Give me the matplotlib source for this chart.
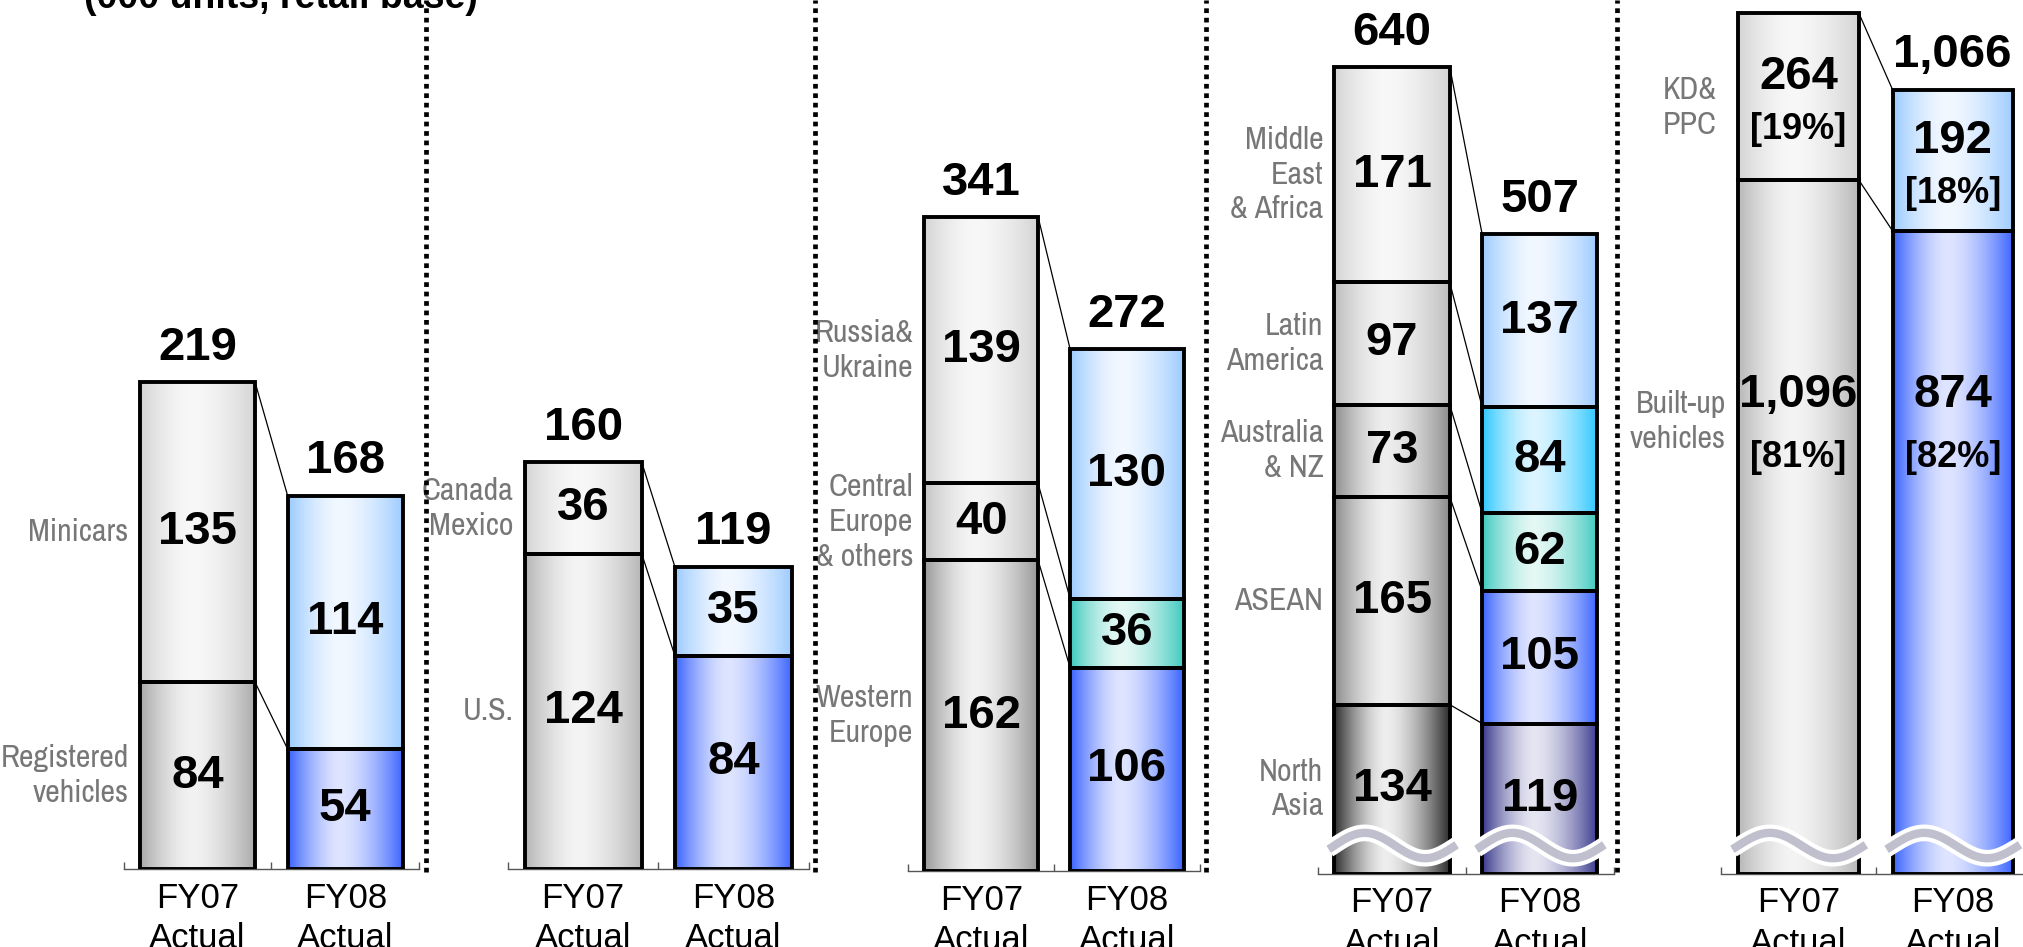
import numpy as np
import matplotlib.pyplot as plt
from matplotlib.colors import to_rgb
from matplotlib.lines import Line2D
from matplotlib.patches import ConnectionPatch

# ---- data (000 units, retail base) ----
bar_names = ['FY07\nActual', 'FY08\nActual']

japan_labels = ['Registered\nvehicles', 'Minicars']
japan_fy07 = [84, 135]
japan_fy08 = [54, 114]

na_labels = ['U.S.', 'Canada\nMexico']
na_fy07 = [124, 36]
na_fy08 = [84, 35]

europe_labels = ['Western\nEurope', 'Central\nEurope\n& others', 'Russia&\nUkraine']
europe_fy07 = [162, 40, 139]
europe_fy08 = [106, 36, 130]

gm_labels = ['North\nAsia', 'ASEAN', 'Australia\n& NZ', 'Latin\nAmerica', 'Middle\nEast\n& Africa']
gm_fy07 = [134, 165, 73, 97, 171]
gm_fy08 = [119, 105, 62, 84, 137]

prod_labels = ['Built-up\nvehicles', 'KD&\nPPC']
prod_fy07 = [1096, 264]
prod_fy08 = [874, 192]
prod_share07 = ['81%', '19%']
prod_share08 = ['82%', '18%']

# ---- styles ----
plt.rcParams['font.family'] = ['Liberation Sans', 'DejaVu Sans']
NARROW = ['Archivo Narrow', 'Pragati Narrow', 'Liberation Sans']

BLUE = ('#3a64ff', '#dfe5ff')
LIGHTBLUE = ('#9ccbff', '#f2f8ff')
TEAL = ('#3fcabf', '#e4f8f4')
CYAN = ('#2ec8ff', '#dcf5ff')
NAVY = ('#3b3b8e', '#e6e6f2')
G_TOP = ('#d4d4d4', '#f8f8f8')

japan_c07 = [('#a9a9a9', '#f2f2f2'), G_TOP]
japan_c08 = [BLUE, LIGHTBLUE]
na_c07 = [('#b5b5b5', '#f4f4f4'), G_TOP]
na_c08 = [BLUE, LIGHTBLUE]
europe_c07 = [('#999999', '#f2f2f2'), ('#c4c4c4', '#f5f5f5'), G_TOP]
europe_c08 = [BLUE, TEAL, LIGHTBLUE]
gm_c07 = [('#2e2e2e', '#eeeeee'), ('#8c8c8c', '#f0f0f0'), ('#8e8e8e', '#eeeeee'),
          ('#bdbdbd', '#f3f3f3'), G_TOP]
gm_c08 = [NAVY, BLUE, TEAL, CYAN, LIGHTBLUE]
prod_c07 = [('#b8b8b8', '#f4f4f4'), G_TOP]
prod_c08 = [BLUE, LIGHTBLUE]

W, H = 2023, 947
BAR_W = 0.78
NUM_SIZE = 34
PCT_SIZE = 26
LAB_SIZE = 23
GRAY = '#777777'

fig = plt.figure(figsize=(W / 100, H / 100), dpi=100)


def shade(edge, mid, n=96, peak=0.45):
    u = np.linspace(0, 1, n)
    d = np.where(u < peak, (peak - u) / peak, (u - peak) / (1 - peak))
    t = d ** 1.6
    e, m = np.array(to_rgb(edge)), np.array(to_rgb(mid))
    return (m + (e - m) * t[:, None])[None, :, :]


def make_ax(left, right, base, ymax, axis=True):
    ax = fig.add_axes([left / W, (H - base) / H, (right - left) / W, base / H])
    ax.patch.set_visible(False)
    for s in ['top', 'right', 'left']:
        ax.spines[s].set_visible(False)
    ax.set_yticks([])
    if axis:
        ax.spines['bottom'].set_color('#555555')
        ax.spines['bottom'].set_linewidth(1.0)
        ax.set_xticks([0, 1], bar_names)
        ax.set_xticks([-0.5, 0.5, 1.5], minor=True)
        ax.tick_params(axis='x', which='major', length=0, pad=9, labelsize=25)
        ax.tick_params(axis='x', which='minor', direction='in', length=5,
                       width=1.0, color='#555555')
        for t in ax.get_xticklabels():
            t.set_linespacing(1.3)
    else:
        ax.spines['bottom'].set_visible(False)
        ax.set_xticks([])
    ax.set_xlim(-0.5, 1.5)
    ax.set_ylim(0, ymax)
    return ax


def stack(ax, x, values, colors, inside=True):
    bottoms = np.concatenate([[0], np.cumsum(values)[:-1]])
    bars = ax.bar([x] * len(values), values, BAR_W, bottom=bottoms,
                  facecolor='none', edgecolor='black', linewidth=2.8, zorder=3)
    for rect, (e, m) in zip(bars, colors):
        x0, y0 = rect.get_x(), rect.get_y()
        ax.imshow(shade(e, m), extent=(x0, x0 + rect.get_width(), y0, y0 + rect.get_height()),
                  aspect='auto', interpolation='bilinear', zorder=2)
    if inside:
        for b, v in zip(bottoms, values):
            ax.text(x, b + v / 2, f'{v:,}', ha='center', va='center',
                    fontsize=NUM_SIZE, fontweight='bold', zorder=6)
    total = sum(values)
    ax.annotate(f'{total:,}', (x, total), xytext=(0, 16), textcoords='offset points',
                ha='center', va='baseline', fontsize=NUM_SIZE, fontweight='bold')
    return bottoms


def side_labels(ax, labels, values):
    bottoms = np.concatenate([[0], np.cumsum(values)[:-1]])
    for lab, b, v in zip(labels, bottoms, values):
        ax.annotate(lab, (-BAR_W / 2, b + v / 2), xytext=(-8, 0), textcoords='offset points',
                    ha='right', va='center', color=GRAY, fontsize=LAB_SIZE,
                    family=NARROW, linespacing=1.3)


def connect(ax, v07, v08):
    c07, c08 = np.cumsum(v07), np.cumsum(v08)
    for a, b in zip(c07, c08):
        ax.plot([BAR_W / 2, 1 - BAR_W / 2], [a, b], color='black', lw=0.9, zorder=1)


def wave(ax, x, yf=0.032, amp=0.0145):
    u = np.linspace(-0.05, 1.06, 120)
    xs = x - BAR_W / 2 + u * BAR_W
    ys = yf + amp * np.sin(2 * np.pi * u / 1.05)
    tr = ax.get_xaxis_transform()
    ax.plot(xs, ys, transform=tr, color='white', lw=12, solid_capstyle='butt', zorder=7)
    ax.plot(xs, ys, transform=tr, color='#bfbfcd', lw=6, solid_capstyle='butt', zorder=8)


# ---- panel 1: Japan ----
ax1 = make_ax(123.5, 419.2, 869, 391)
stack(ax1, 0, japan_fy07, japan_c07)
stack(ax1, 1, japan_fy08, japan_c08)
side_labels(ax1, japan_labels, japan_fy07)
connect(ax1, japan_fy07, japan_fy08)
ax1.set_xlim(-0.5, 1.5); ax1.set_ylim(0, 391)

# ---- panel 2: North America ----
ax2 = make_ax(508, 808.6, 869, 342)
stack(ax2, 0, na_fy07, na_c07)
stack(ax2, 1, na_fy08, na_c08)
side_labels(ax2, na_labels, na_fy07)
connect(ax2, na_fy07, na_fy08)
ax2.set_xlim(-0.5, 1.5); ax2.set_ylim(0, 342)

# ---- panel 3: Europe ----
ax3 = make_ax(908.3, 1199.9, 871, 454)
stack(ax3, 0, europe_fy07, europe_c07)
stack(ax3, 1, europe_fy08, europe_c08)
side_labels(ax3, europe_labels, europe_fy07)
connect(ax3, europe_fy07, europe_fy08)
ax3.set_xlim(-0.5, 1.5); ax3.set_ylim(0, 454)

# ---- panel 4: General overseas markets ----
ax4 = make_ax(1318.2, 1613.7, 873.5, 693)
stack(ax4, 0, gm_fy07, gm_c07)
stack(ax4, 1, gm_fy08, gm_c08)
side_labels(ax4, gm_labels, gm_fy07)
connect(ax4, gm_fy07, gm_fy08)
wave(ax4, 0)
wave(ax4, 1)
ax4.set_xlim(-0.5, 1.5); ax4.set_ylim(0, 693)

# ---- panel 5: production (two scales, broken axis) ----
ax5 = make_ax(1721.4, 2029.8, 873.5, 1380)
ax5b = make_ax(1721.4, 2029.8, 873.5, 1188, axis=False)
stack(ax5, 0, prod_fy07, prod_c07, inside=False)
stack(ax5b, 1, prod_fy08, prod_c08, inside=False)
for ax, x, vals, shares in [(ax5, 0, prod_fy07, prod_share07), (ax5b, 1, prod_fy08, prod_share08)]:
    tr = ax.get_xaxis_transform()
    ax.text(x, 0.548, f'{vals[0]:,}', transform=tr, ha='center', va='center',
            fontsize=NUM_SIZE, fontweight='bold', zorder=6)
    ax.text(x, 0.476, f'[{shares[0]}]', transform=tr, ha='center', va='center',
            fontsize=PCT_SIZE, fontweight='bold', zorder=6)
    ax.annotate(f'{vals[1]:,}', (x, vals[0] + vals[1] / 2), xytext=(0, 14),
                textcoords='offset points', ha='center', va='center',
                fontsize=NUM_SIZE, fontweight='bold', zorder=6)
    ax.annotate(f'[{shares[1]}]', (x, vals[0] + vals[1] / 2), xytext=(0, -24),
                textcoords='offset points', ha='center', va='center',
                fontsize=PCT_SIZE, fontweight='bold', zorder=6)
    wave(ax, x)
ax5.text(-BAR_W / 2 - 0.08, 0.517, prod_labels[0], transform=ax5.get_xaxis_transform(),
         ha='right', va='center', color=GRAY, fontsize=LAB_SIZE, family=NARROW,
         linespacing=1.3)
ax5.annotate(prod_labels[1], (-BAR_W / 2, prod_fy07[0] + prod_fy07[1] / 2), xytext=(-16, -8),
             textcoords='offset points', ha='right', va='center', color=GRAY,
             fontsize=LAB_SIZE, family=NARROW, linespacing=1.3)
c07, c08 = np.cumsum(prod_fy07), np.cumsum(prod_fy08)
for a, b in zip(c07, c08):
    fig.add_artist(ConnectionPatch(xyA=(BAR_W / 2, a), coordsA=ax5.transData,
                                   xyB=(1 - BAR_W / 2, b), coordsB=ax5b.transData,
                                   color='black', lw=0.9, zorder=1))
ax5.set_xlim(-0.5, 1.5); ax5.set_ylim(0, 1380)
ax5b.set_xlim(-0.5, 1.5); ax5b.set_ylim(0, 1188)

# ---- dotted separators and heading ----
for sx in [425.8, 815.4, 1206.3, 1616.6]:
    fig.add_artist(Line2D([sx / W, sx / W], [(H - 872) / H, 1], transform=fig.transFigure,
                          color='black', lw=3.4, linestyle=(0, (1, 1))))

fig.text(84 / W, (H - 8) / H, '(000 units, retail base)', fontsize=27, fontweight='bold',
         ha='left', va='baseline')

fig.savefig('out.png', dpi=100)
